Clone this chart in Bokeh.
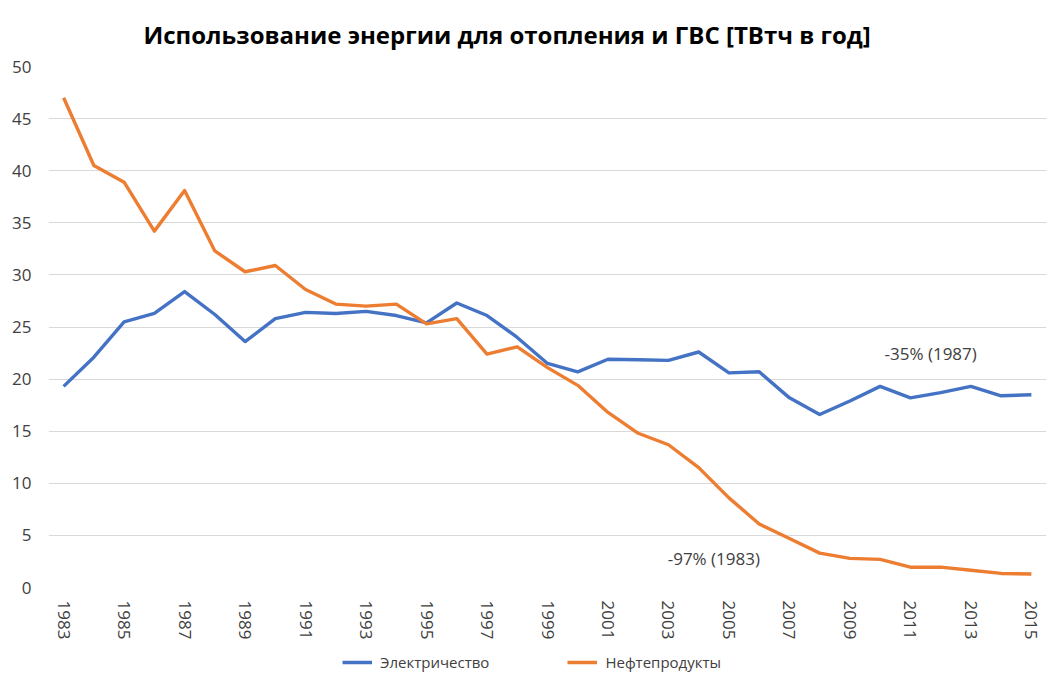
import math
from bokeh.plotting import figure
from bokeh.layouts import column
from bokeh.models import FixedTicker, Legend, LegendItem, Label, Range1d
from bokeh.embed import file_html
from bokeh.resources import INLINE

# ---- data ----
years = list(range(1983, 2016))
electricity = [19.3, 22.1, 25.5, 26.3, 28.4, 26.2, 23.6, 25.8, 26.4, 26.3,
               26.5, 26.1, 25.4, 27.3, 26.1, 24.0, 21.5, 20.7, 21.9, 21.85,
               21.8, 22.6, 20.6, 20.7, 18.2, 16.6, 17.9, 19.3, 18.2, 18.7,
               19.3, 18.4, 18.5]
oil = [47.0, 40.5, 38.9, 34.2, 38.1, 32.3, 30.3, 30.9, 28.6, 27.2,
       27.0, 27.2, 25.3, 25.8, 22.4, 23.1, 21.1, 19.4, 16.8, 14.8,
       13.7, 11.5, 8.6, 6.1, 4.7, 3.3, 2.8, 2.7, 1.95, 1.95,
       1.65, 1.35, 1.3]
series_names = ["Электричество", "Нефтепродукты"]
tick_years = years[::2]
tick_labels = [str(y) for y in tick_years]
y_ticks = [0, 5, 10, 15, 20, 25, 30, 35, 40, 45, 50]
title_text = "Использование энергии для отопления и ГВС [ТВтч в год]"
annot_texts = ["-35% (1987)", "-97% (1983)"]
annot_x = [2011.67, 2004.5]
annot_y = [22.5, 2.8]

BLUE = "#4472C4"
ORANGE = "#ED7D31"
FONT = "Open Sans"
colors = [BLUE, ORANGE]
series = [electricity, oil]

p = figure(width=1052, height=642, output_backend="svg",
           toolbar_location=None,
           x_range=Range1d(1982.5, 2015.5), y_range=Range1d(0, 50),
           min_border_left=48, min_border_right=6, min_border_top=66,
           min_border_bottom=55)
p.outline_line_color = None
p.background_fill_color = "white"
p.border_fill_color = "white"

p.title.text = title_text
p.title.text_font = FONT
p.title.text_font_size = "24px"
p.title.text_font_style = "bold"
p.title.text_color = "#000000"
p.title.align = "left"
p.title.offset = 95
p.title.standoff = 31

for vals, c in zip(series, colors):
    p.line(years, vals, line_color=c, line_width=3.4, line_join="round")

p.xgrid.grid_line_color = None
p.ygrid.grid_line_color = "#d9d9d9"
p.ygrid.grid_line_width = 1

p.yaxis.ticker = FixedTicker(ticks=y_ticks)
p.yaxis.axis_line_color = None
p.yaxis.major_tick_line_color = None
p.yaxis.major_tick_out = 0
p.yaxis.major_tick_in = 0
p.yaxis.minor_tick_line_color = None
p.yaxis.major_label_text_font = FONT
p.yaxis.major_label_text_font_size = "17px"
p.yaxis.major_label_text_color = "#404040"
p.yaxis.major_label_standoff = 17

p.xaxis.ticker = FixedTicker(ticks=tick_years)
p.xaxis.major_label_overrides = {y: l for y, l in zip(tick_years, tick_labels)}
p.xaxis.axis_line_color = None
p.xaxis.major_tick_line_color = None
p.xaxis.major_tick_out = 0
p.xaxis.major_tick_in = 0
p.xaxis.minor_tick_line_color = None
p.xaxis.major_label_text_font = FONT
p.xaxis.major_label_text_font_size = "17px"
p.xaxis.major_label_text_color = "#404040"
p.xaxis.major_label_orientation = -math.pi / 2
p.xaxis.major_label_standoff = 13

for t, x, y in zip(annot_texts, annot_x, annot_y):
    p.add_layout(Label(x=x, y=y, text=t, text_font=FONT, text_font_size="17px",
                       text_color="#404040", text_align="center",
                       text_baseline="middle"))

# ---- legend strip (separate figure; its series lie outside its own view) ----
leg = figure(width=1052, height=48, output_backend="svg", toolbar_location=None,
             x_axis_location=None, y_axis_location=None,
             x_range=Range1d(0, 1), y_range=Range1d(0, 1),
             min_border=0)
leg.outline_line_color = None
leg.grid.visible = False
leg_renderers = [leg.line(years, vals, line_color=c, line_width=3.5)
                 for vals, c in zip(series, colors)]

legend = Legend(items=[LegendItem(label=n, renderers=[r])
                       for n, r in zip(series_names, leg_renderers)],
                orientation="horizontal", location=(294, 18),
                border_line_color=None, background_fill_alpha=0,
                label_text_font=FONT, label_text_font_size="15px",
                label_text_color="#404040",
                glyph_width=30, glyph_height=16, label_standoff=8, spacing=78,
                padding=4, margin=0)
leg.add_layout(legend)

open("out.html", "w").write(file_html(column(p, leg), INLINE))
